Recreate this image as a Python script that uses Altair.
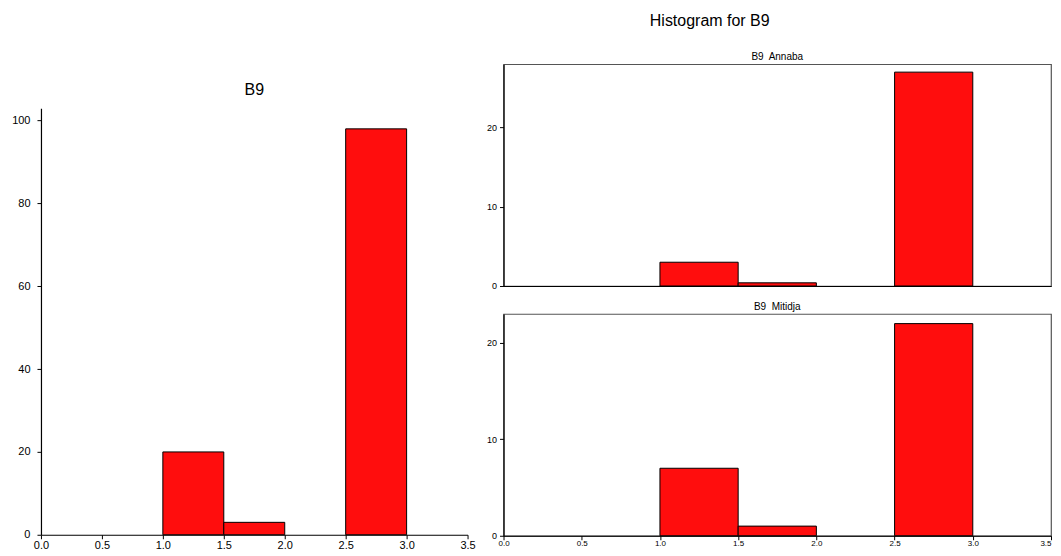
import altair as alt
import pandas as pd

# ---- data ----
bin_start = [1.0, 1.5, 2.5]
bin_end = [1.5, 2.0, 3.0]
total_counts = [20, 3, 98]
annaba_counts = [3, 0.4, 27]
mitidja_counts = [7, 1, 22]
x_ticks = [0.0, 0.5, 1.0, 1.5, 2.0, 2.5, 3.0, 3.5]
left_y_ticks = [0, 20, 40, 60, 80, 100]
right_y_ticks = [0, 10, 20]

FONT = "Liberation Sans"
RED = "#FF0D0D"


def frame(counts):
    return pd.DataFrame({"start": bin_start, "end": bin_end, "count": counts})


def hist(counts, ymax, yticks, width, height, title, title_size, title_offset,
         x_labels, label_size, x_label_size, y_label_pad, x_label_pad, view_stroke,
         last_label_right=False):
    x_axis_kw = dict(values=x_ticks, format=".1f", title=None, labels=x_labels,
                     ticks=x_labels, tickSize=4, labelFontSize=x_label_size,
                     labelPadding=x_label_pad, labelFlush=False, domainColor="black",
                     domainWidth=1.2)
    if last_label_right:
        x_axis_kw["labelAlign"] = alt.ExprRef(expr="datum.value >= 3.5 ? 'right' : 'center'")
    x_axis = alt.Axis(**x_axis_kw)
    y_axis = alt.Axis(values=yticks, title=None, tickSize=4, labelFontSize=label_size,
                      labelPadding=y_label_pad, domainColor="black", domainWidth=1.2)
    ch = alt.Chart(frame(counts)).mark_rect(
        color=RED, stroke="black", strokeWidth=1
    ).encode(
        x=alt.X("start:Q", scale=alt.Scale(domain=[0, 3.5], nice=False, zero=False), axis=x_axis),
        x2="end:Q",
        y=alt.Y("count:Q", scale=alt.Scale(domain=[0, ymax], nice=False), axis=y_axis),
        y2=alt.datum(0),
    ).properties(
        width=width, height=height,
        title=alt.TitleParams(title, fontSize=title_size, offset=title_offset,
                              font=FONT, fontWeight="normal", color="black"),
        view=alt.ViewBackground(stroke=view_stroke, strokeWidth=1.2) if view_stroke else alt.ViewBackground(strokeWidth=0),
    )
    return ch


left = hist(total_counts, 103, left_y_ticks, 427, 427, "B9", 16, 10,
            True, 11, 11, 7, 1, None)

spacer = alt.Chart(pd.DataFrame({"v": [0]})).mark_rect(opacity=0).encode(
    x=alt.value(0), x2=alt.value(1), y=alt.value(0), y2=alt.value(1)
).properties(width=427, height=18, view=alt.ViewBackground(strokeWidth=0))

top = hist(annaba_counts, 28, right_y_ticks, 548, 222, "B9\u00a0 Annaba", 10, 2,
           False, 9, 9, 3, 0, "#555555")
bottom = hist(mitidja_counts, 23, right_y_ticks, 548, 222, "B9\u00a0 Mitidja", 10, 2,
              True, 9, 8, 3, 0, "#555555", last_label_right=True)

left_col = alt.vconcat(spacer, left, spacing=0)
right_col = alt.vconcat(top, bottom, spacing=9)

chart = alt.hconcat(left_col, right_col, spacing=10).properties(
    title=alt.TitleParams("Histogram for B9", fontSize=16, font=FONT, fontWeight="normal",
                          color="black", anchor="middle", dx=178, offset=23),
    padding={"left": 3, "top": 4, "right": 0, "bottom": 0},
).configure_axis(
    grid=False, labelFont=FONT, labelColor="black", tickColor="black"
).configure_concat(spacing=0)

chart.save("out.html", embed_options={"renderer": "svg", "actions": False})
